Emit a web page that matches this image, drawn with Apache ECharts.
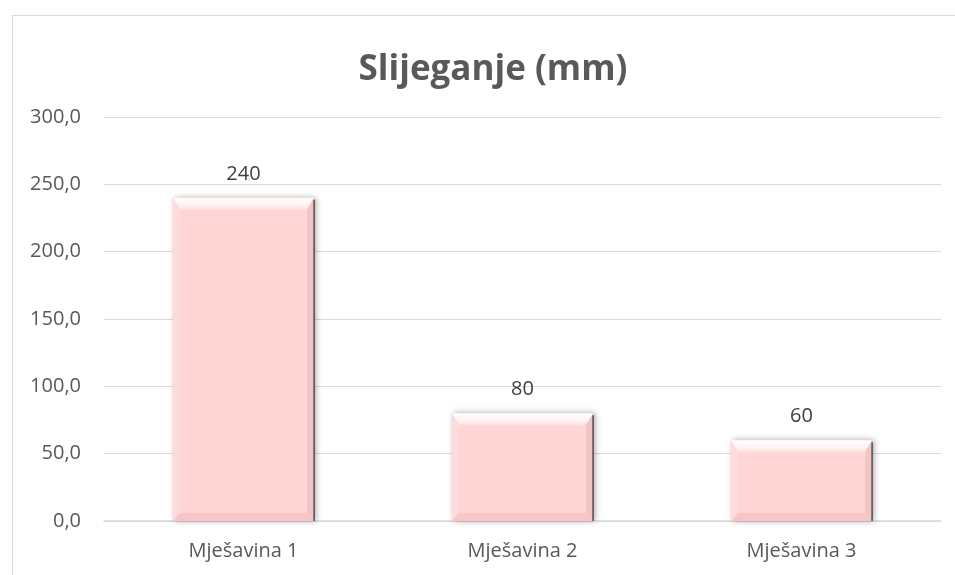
<!DOCTYPE html>
<html>
<head>
<meta charset="utf-8">
<script src="https://cdn.jsdelivr.net/npm/echarts@6/dist/echarts.min.js"></script>
<style>html,body{margin:0;padding:0;background:#fff;}#c{width:955px;height:575px;}</style>
</head>
<body>
<div id="c"></div>
<script>
const titleText = 'Slijeganje (mm)';
const categories = ['Mješavina 1', 'Mješavina 2', 'Mješavina 3'];
const values = [240, 80, 60];
const yTicks = [0, 50, 100, 150, 200, 250, 300];

const chart = echarts.init(document.getElementById('c'), null, {renderer: 'canvas'});
const FONT = '"Open Sans", "Noto Sans", sans-serif';

function renderBar(params, api) {
  const idx = api.value(0);
  const val = api.value(1);
  const top = api.coord([idx, val]);
  const base = api.coord([idx, 0]);
  const w = api.size([1, 0])[0] * 0.506;
  const x0 = top[0] - w / 2, x1 = top[0] + w / 2;
  const y0 = top[1], y1 = base[1];
  const bt = 12, bb = 8, bs = 7;
  const fill = '#FFD5D5';
  return {
    type: 'group',
    children: [
      {type: 'rect', shape: {x: x0, y: y0, width: w, height: y1 - y0},
       style: {fill: fill, shadowBlur: 6, shadowOffsetX: 2, shadowOffsetY: 0, shadowColor: 'rgba(0,0,0,0.35)'}},
      // top bevel
      {type: 'polygon', shape: {points: [[x0, y0], [x1, y0], [x1 - bs, y0 + bt], [x0 + bs, y0 + bt]]},
       style: {fill: new echarts.graphic.LinearGradient(0, 0, 0, 1, [{offset: 0, color: '#ffffff'}, {offset: 0.6, color: '#fff3f3'}, {offset: 1, color: '#ffdede'}])}},
      // left bevel
      {type: 'polygon', shape: {points: [[x0, y0], [x0 + bs, y0 + bt], [x0 + bs, y1 - bb], [x0, y1]]},
       style: {fill: '#ffdcdc'}},
      // right bevel
      {type: 'polygon', shape: {points: [[x1, y0], [x1 - bs, y0 + bt], [x1 - bs, y1 - bb], [x1, y1]]},
       style: {fill: '#f3c4c4'}},
      // bottom bevel
      {type: 'polygon', shape: {points: [[x0, y1], [x0 + bs, y1 - bb], [x1 - bs, y1 - bb], [x1, y1]]},
       style: {fill: '#f8c6c6'}},
      // dark right edge
      {type: 'line', shape: {x1: x1, y1: y0 + 2, x2: x1, y2: y1}, style: {stroke: '#5a4a4a', lineWidth: 1.5}},
      {type: 'text', style: {text: String(val), x: top[0], y: y0 - 24, align: 'center', verticalAlign: 'middle',
        fill: '#404040', font: '20px ' + FONT}}
    ]
  };
}

chart.setOption({
  animation: false,
  backgroundColor: '#ffffff',
  title: {
    text: titleText, left: 488, top: 48, textAlign: 'center',
    textStyle: {fontFamily: FONT, fontWeight: 'bold', fontSize: 35, color: '#595959'}
  },
  graphic: [{
    type: 'rect', left: 10, top: 13, shape: {width: 1000, height: 600},
    style: {fill: 'none', stroke: '#d9d9d9', lineWidth: 1}, silent: true, z: -1
  }],
  grid: {left: 104, right: 14, top: 117, bottom: 54},
  xAxis: {
    type: 'category', data: categories,
    axisLine: {lineStyle: {color: '#d9d9d9', width: 1.5}},
    axisTick: {show: false},
    axisLabel: {color: '#595959', fontSize: 20, fontFamily: FONT, margin: 20}
  },
  yAxis: {
    type: 'value', min: yTicks[0], max: yTicks[yTicks.length - 1], interval: 50,
    axisLine: {show: false}, axisTick: {show: false},
    splitLine: {lineStyle: {color: '#d9d9d9', width: 1}},
    axisLabel: {color: '#595959', fontSize: 20, fontFamily: FONT, margin: 23,
      formatter: v => v.toFixed(1).replace('.', ',')}
  },
  series: [{
    type: 'custom',
    renderItem: renderBar,
    data: values.map((v, i) => [i, v]),
    encode: {x: 0, y: 1},
    z: 3
  }]
});
</script>
</body>
</html>
